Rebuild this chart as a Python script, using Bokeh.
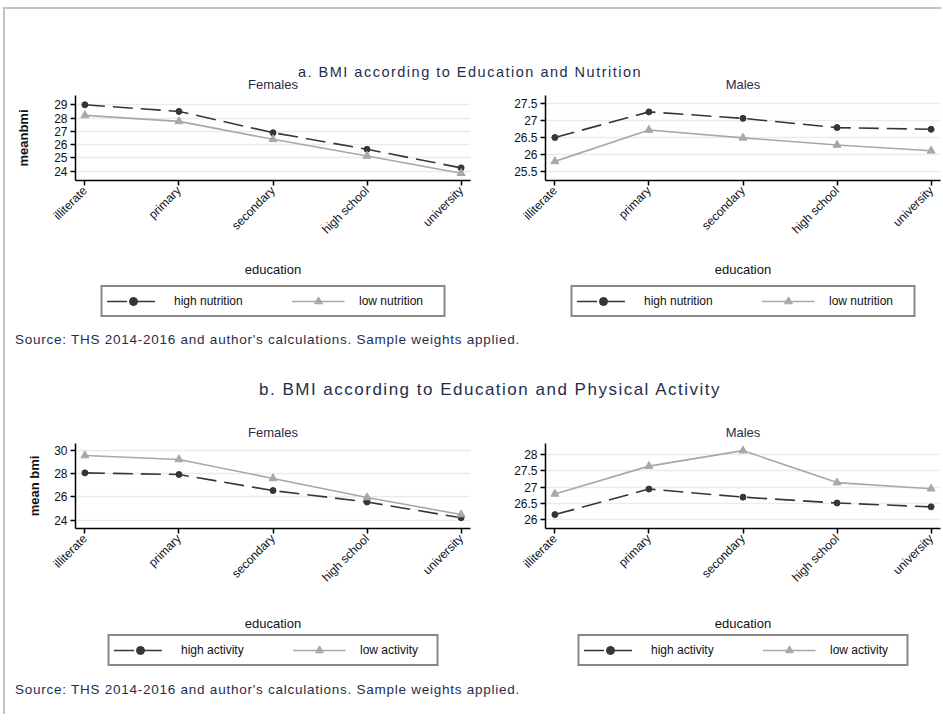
from bokeh.plotting import figure
from bokeh.models import Div, Legend, LegendItem, FixedTicker, Range1d
from bokeh.layouts import column, row
from bokeh.embed import file_html
from bokeh.resources import INLINE

# ---------------- data ----------------
education = ["illiterate", "primary", "secondary", "high school", "university"]

# a. nutrition
fem_nut_high = [29.0, 28.5, 26.9, 25.65, 24.25]
fem_nut_low = [28.2, 27.75, 26.4, 25.15, 23.85]
mal_nut_high = [26.51, 27.26, 27.07, 26.8, 26.75]
mal_nut_low = [25.81, 26.73, 26.5, 26.29, 26.12]

# b. physical activity
fem_act_high = [28.08, 27.94, 26.55, 25.56, 24.2]
fem_act_low = [29.58, 29.24, 27.6, 25.95, 24.48]
mal_act_high = [26.15, 26.94, 26.69, 26.51, 26.39]
mal_act_low = [26.79, 27.65, 28.13, 27.14, 26.95]

fem_nut_ticks = [24, 25, 26, 27, 28, 29]
mal_nut_ticks = [25.5, 26, 26.5, 27, 27.5]
fem_act_ticks = [24, 26, 28, 30]
mal_act_ticks = [26, 26.5, 27, 27.5, 28]

nut_labels = ["high nutrition", "low nutrition"]
act_labels = ["high activity", "low activity"]

title_a = "a. BMI according to Education and Nutrition"
title_b = "b. BMI according to Education and Physical Activity"
source_text = "Source: THS 2014-2016 and author's calculations. Sample weights applied."

# ---------------- style ----------------
FONT = "Liberation Sans"
NAVY = "#1f2d4d"
DARK = "#363636"
GRAY = "#a8a8a8"
GRID = "#e4edf0"
FRAME_GRAY = "#c4c4c4"
HIGH_STYLE = dict(line_color=DARK, line_width=1.6, line_dash="20 8")
LOW_STYLE = dict(line_color=GRAY, line_width=1.6)
NAN = float("nan")


def fmt(v):
    return ("%g" % v)


def panel(sub, high, low, yr, yticks, ylabel, width, height, mbl, mbr, mbt, mbb,
          title_standoff, ylab_standoff, xlab_standoff):
    p = figure(width=width, height=height, output_backend="svg",
               toolbar_location=None, x_range=Range1d(-0.1, 4.1),
               y_range=Range1d(*yr), min_border_left=mbl, min_border_right=mbr,
               min_border_top=mbt, min_border_bottom=mbb, sizing_mode="fixed",
               margin=0)
    p.outline_line_color = None
    p.border_fill_color = None
    p.background_fill_color = None

    p.title.text = sub
    p.title.align = "center"
    p.title.text_font = FONT
    p.title.text_font_size = "13px"
    p.title.text_font_style = "normal"
    p.title.text_color = NAVY
    p.title.standoff = title_standoff

    xs = list(range(len(education)))
    p.line(xs, high, **HIGH_STYLE)
    p.scatter(xs, high, marker="circle", size=6, color=DARK)
    p.line(xs, low, **LOW_STYLE)
    p.scatter(xs, low, marker="triangle", size=8, color=GRAY)

    p.xaxis.ticker = FixedTicker(ticks=xs)
    p.xaxis.major_label_overrides = {i: education[i] for i in xs}
    p.xaxis.major_label_orientation = 0.785398
    p.xaxis.axis_label = "education"
    p.xaxis.axis_label_standoff = xlab_standoff
    p.xaxis.axis_label_text_font_style = "normal"

    p.yaxis.ticker = FixedTicker(ticks=yticks)
    p.yaxis.major_label_overrides = {t: fmt(t) for t in yticks}
    p.yaxis.major_label_orientation = "horizontal"
    if ylabel:
        p.yaxis.axis_label = ylabel
        p.yaxis.axis_label_standoff = ylab_standoff
        p.yaxis.axis_label_text_font_style = "bold"

    for ax in (p.xaxis[0], p.yaxis[0]):
        ax.axis_line_color = "black"
        ax.axis_line_width = 1.5
        ax.major_tick_line_color = "black"
        ax.major_tick_line_width = 1.5
        ax.major_tick_out = 5
        ax.major_tick_in = 0
        ax.minor_tick_line_color = None
        ax.major_label_text_font = FONT
        ax.major_label_text_font_size = "12px"
        ax.major_label_text_color = "#111111"
        ax.major_label_standoff = 3
        ax.axis_label_text_font = FONT
        ax.axis_label_text_font_size = "13px"
        ax.axis_label_text_color = "#111111"

    p.xgrid.grid_line_color = None
    p.ygrid.ticker = FixedTicker(ticks=yticks)
    p.ygrid.grid_line_color = GRID
    p.ygrid.grid_line_width = 1.5
    return p


def legend_fig(labels, width, height, mbl, mbr, label_w, spacing):
    q = figure(width=width, height=height, output_backend="svg",
               toolbar_location=None, x_axis_type=None, y_axis_type=None,
               x_range=Range1d(0, 1), y_range=Range1d(0, 1),
               min_border_left=mbl, min_border_right=mbr, min_border_top=0,
               min_border_bottom=0, sizing_mode="fixed", margin=0)
    q.outline_line_color = None
    q.border_fill_color = None
    q.background_fill_color = None
    q.xgrid.grid_line_color = None
    q.ygrid.grid_line_color = None
    # legend-only renderers (no visible data points)
    rh = q.line([0], [NAN], **HIGH_STYLE)
    mh = q.scatter([0], [NAN], marker="circle", size=6, color=DARK)
    rl = q.line([0], [NAN], **LOW_STYLE)
    ml = q.scatter([0], [NAN], marker="triangle", size=8, color=GRAY)
    legend = Legend(items=[LegendItem(label=labels[0], renderers=[rh, mh]),
                           LegendItem(label=labels[1], renderers=[rl, ml])],
                    orientation="horizontal", location="center")
    legend.glyph_width = 53
    legend.glyph_height = 20
    legend.label_standoff = 15
    legend.label_width = label_w
    legend.spacing = spacing
    legend.padding = 4
    legend.margin = 0
    legend.border_line_color = "#111111"
    legend.border_line_width = 2
    legend.label_text_font = FONT
    legend.label_text_font_size = "12px"
    legend.label_text_color = "#111111"
    legend.background_fill_color = "white"
    legend.background_fill_alpha = 1.0
    q.add_layout(legend, "center")
    return q


def text_div(txt, width, height, mt, size, center, ls, ml=0, inner_w=None):
    align = "center" if center else "left"
    if inner_w is None:
        inner_w = width
    html = ('<div style="margin-top:%dpx;margin-left:%dpx;width:%dpx;text-align:%s;'
            'font-family:\'%s\';font-size:%s;letter-spacing:%s;color:%s;'
            'line-height:16px;white-space:nowrap;">%s</div>'
            % (mt, ml, inner_w, align, FONT, size, ls, NAVY, txt))
    return Div(text=html, width=width, height=height, sizing_mode="fixed", margin=0,
               styles={"overflow": "visible"})


WL, WR = 470, 466
W = WL + WR

fa = panel("Females", fem_nut_high, fem_nut_low, (23.3, 29.7), fem_nut_ticks,
           "meanbmi", WL, 211, 70, 5, 26, 99, 7, 20, 18)
ma = panel("Males", mal_nut_high, mal_nut_low, (25.25, 27.74), mal_nut_ticks,
           None, WR, 211, 70, 1, 26, 99, 7, 10, 18)
fa_leg = legend_fig(nut_labels, WL, 42, 70, 5, 80, 37)
ma_leg = legend_fig(nut_labels, WR, 42, 70, 1, 80, 37)

fb = panel("Females", fem_act_high, fem_act_low, (23.27, 30.62), fem_act_ticks,
           "mean bmi", WL, 217, 70, 5, 26, 105, 7, 9, 24)
mb = panel("Males", mal_act_high, mal_act_low, (25.72, 28.35), mal_act_ticks,
           None, WR, 217, 70, 1, 26, 105, 7, 10, 24)
fb_leg = legend_fig(act_labels, WL, 32, 70, 5, 72, 39)
mb_leg = legend_fig(act_labels, WR, 32, 70, 1, 72, 39)

content = column(
    text_div(title_a, W, 60, 55, "14.5px", True, "1.5px", inner_w=930),
    row(column(fa, fa_leg, spacing=0), column(ma, ma_leg, spacing=0), spacing=0),
    text_div(source_text, W, 38, 10, "13.5px", False, "0.75px", ml=10),
    text_div(title_b, W, 57, 22, "17px", True, "1.5px", inner_w=970),
    row(column(fb, fb_leg, spacing=0), column(mb, mb_leg, spacing=0), spacing=0),
    text_div(source_text, W, 38, 16, "13.5px", False, "0.75px", ml=10),
    spacing=0,
)

top_line = Div(text="", width=W + 2, height=2, styles={"background-color": FRAME_GRAY},
               sizing_mode="fixed", margin=0)
left_line = Div(text="", width=2, height=705, styles={"background-color": FRAME_GRAY},
                sizing_mode="fixed", margin=0)

page = column(top_line, row(left_line, content, spacing=0), spacing=0,
              margin=(7, 0, 0, 3))

open("out.html", "w").write(file_html(page, INLINE))
